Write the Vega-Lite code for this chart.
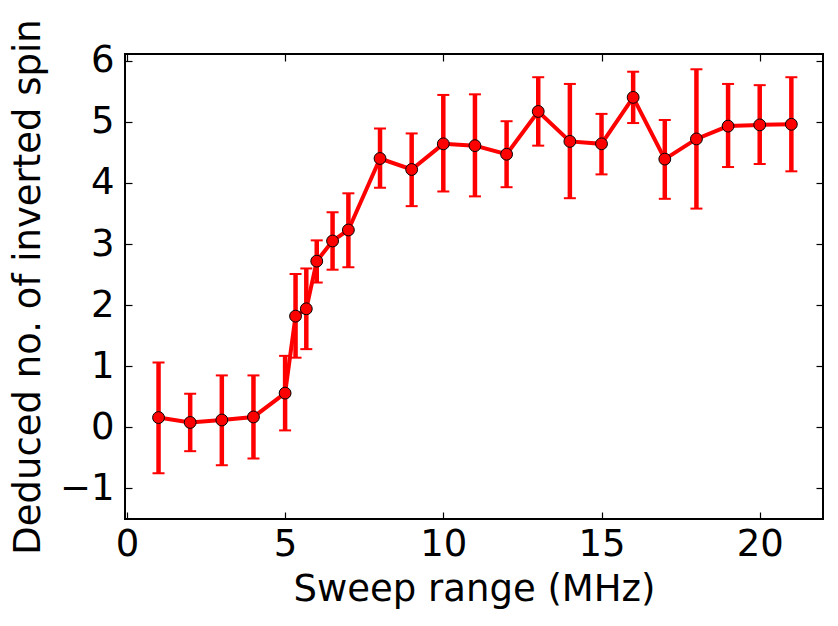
{
  "$schema": "https://vega.github.io/schema/vega-lite/v6.json",
  "width": 698,
  "height": 465,
  "autosize": {"type": "none"},
  "padding": {"left": 125, "top": 54, "right": 15, "bottom": 107},
  "background": "white",
  "config": {
    "font": "DejaVu Sans",
    "view": {"stroke": "black", "strokeWidth": 2},
    "axis": {
      "grid": false,
      "domain": false,
      "tickSize": -7,
      "tickWidth": 1.2,
      "tickColor": "black",
      "labelFont": "DejaVu Sans",
      "labelFontSize": 37,
      "labelColor": "black",
      "labelFlush": false,
      "labelOverlap": false,
      "titleFont": "DejaVu Sans",
      "titleFontSize": 37,
      "titleFontWeight": "normal",
      "titleColor": "black"
    }
  },
  "data": {
    "values": [
      {"sweep": 1, "spins": 0.16, "lo": -0.75, "hi": 1.06},
      {"sweep": 2, "spins": 0.08, "lo": -0.39, "hi": 0.55},
      {"sweep": 3, "spins": 0.12, "lo": -0.62, "hi": 0.85},
      {"sweep": 4, "spins": 0.17, "lo": -0.51, "hi": 0.85},
      {"sweep": 5, "spins": 0.56, "lo": -0.05, "hi": 1.17},
      {"sweep": 5.33, "spins": 1.82, "lo": 1.14, "hi": 2.51},
      {"sweep": 5.67, "spins": 1.94, "lo": 1.28, "hi": 2.6},
      {"sweep": 6, "spins": 2.72, "lo": 2.37, "hi": 3.06},
      {"sweep": 6.5, "spins": 3.05, "lo": 2.58, "hi": 3.52},
      {"sweep": 7, "spins": 3.23, "lo": 2.62, "hi": 3.83},
      {"sweep": 8, "spins": 4.4, "lo": 3.92, "hi": 4.89},
      {"sweep": 9, "spins": 4.22, "lo": 3.62, "hi": 4.81},
      {"sweep": 10, "spins": 4.64, "lo": 3.86, "hi": 5.44},
      {"sweep": 11, "spins": 4.61, "lo": 3.78, "hi": 5.45},
      {"sweep": 12, "spins": 4.47, "lo": 3.93, "hi": 5.01},
      {"sweep": 13, "spins": 5.17, "lo": 4.61, "hi": 5.73},
      {"sweep": 14, "spins": 4.68, "lo": 3.75, "hi": 5.62},
      {"sweep": 15, "spins": 4.64, "lo": 4.14, "hi": 5.13},
      {"sweep": 16, "spins": 5.4, "lo": 4.98, "hi": 5.82},
      {"sweep": 17, "spins": 4.39, "lo": 3.74, "hi": 5.03},
      {"sweep": 18, "spins": 4.72, "lo": 3.58, "hi": 5.86},
      {"sweep": 19, "spins": 4.93, "lo": 4.26, "hi": 5.62},
      {"sweep": 20, "spins": 4.95, "lo": 4.31, "hi": 5.6},
      {"sweep": 21, "spins": 4.96, "lo": 4.19, "hi": 5.73}
    ]
  },
  "resolve": {"axis": {"x": "independent", "y": "independent"}},
  "layer": [
    {
      "mark": {"type": "rule", "color": "#ff0000", "strokeWidth": 4.5},
      "encoding": {
        "x": {
          "field": "sweep", "type": "quantitative",
          "scale": {"domain": [-0.06, 22], "nice": false, "zero": false},
          "axis": {"orient": "bottom", "values": [0, 5, 10, 15, 20], "format": "d", "labelPadding": 14, "title": "Sweep range (MHz)", "titlePadding": 9}
        },
        "y": {
          "field": "lo", "type": "quantitative",
          "scale": {"domain": [-1.5, 6.11], "nice": false, "zero": false},
          "axis": {"orient": "left", "values": [-1, 0, 1, 2, 3, 4, 5, 6], "format": "d", "labelPadding": 18, "title": "Deduced no. of inverted spin", "titlePadding": 12}
        },
        "y2": {"field": "hi"}
      }
    },
    {
      "mark": {"type": "tick", "orient": "horizontal", "color": "#ff0000", "size": 12, "thickness": 2, "opacity": 1},
      "encoding": {
        "x": {"field": "sweep", "type": "quantitative", "axis": null},
        "y": {"field": "lo", "type": "quantitative", "axis": null}
      }
    },
    {
      "mark": {"type": "tick", "orient": "horizontal", "color": "#ff0000", "size": 12, "thickness": 2, "opacity": 1},
      "encoding": {
        "x": {"field": "sweep", "type": "quantitative", "axis": null},
        "y": {"field": "hi", "type": "quantitative", "axis": null}
      }
    },
    {
      "mark": {"type": "line", "color": "#ff0000", "strokeWidth": 4},
      "encoding": {
        "x": {"field": "sweep", "type": "quantitative", "axis": null},
        "y": {"field": "spins", "type": "quantitative", "axis": null}
      }
    },
    {
      "mark": {"type": "point", "filled": true, "fill": "#ff0000", "stroke": "black", "strokeWidth": 1, "size": 140, "opacity": 1},
      "encoding": {
        "x": {
          "field": "sweep", "type": "quantitative",
          "axis": {"orient": "top", "values": [0, 5, 10, 15, 20], "labels": false, "title": null}
        },
        "y": {
          "field": "spins", "type": "quantitative",
          "axis": {"orient": "right", "values": [-1, 0, 1, 2, 3, 4, 5, 6], "labels": false, "title": null}
        }
      }
    }
  ]
}
